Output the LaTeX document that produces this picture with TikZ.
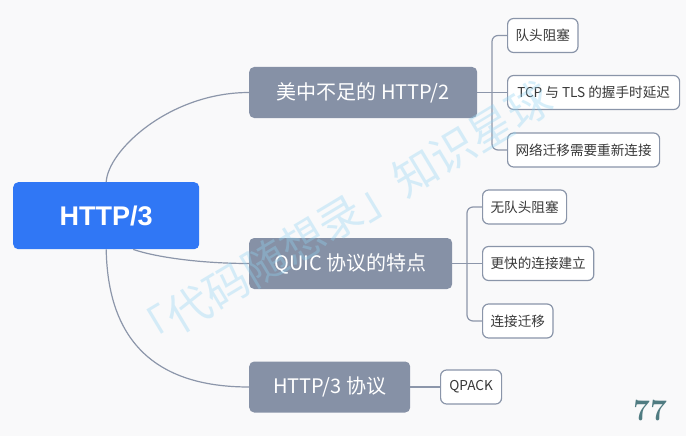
\documentclass[tikz,border=0pt]{standalone}
\usepackage{fontspec}
\newfontfamily\cjk{Noto Sans CJK SC}
\newfontfamily\arialb{Liberation Sans}
\usetikzlibrary{calc}
\definecolor{bg}{HTML}{F9F9FA}
\definecolor{rootblue}{HTML}{3077F5}
\definecolor{topicgrey}{HTML}{8691A6}
\definecolor{leafline}{HTML}{8A95A9}
\definecolor{linkgrey}{HTML}{8C96AA}
\definecolor{leaftext}{HTML}{383838}
\definecolor{numcol}{HTML}{4F7B81}
\definecolor{wmblue}{HTML}{8FD3F3}
\tikzset{
  rootbox/.style={fill=rootblue, rounded corners=5pt, minimum width=186pt, minimum height=67pt,
    text=white, font=\arialb\bfseries\fontsize{27}{30}\selectfont, inner sep=0pt},
  topic/.style={fill=topicgrey, rounded corners=5pt, minimum height=51pt, text=white,
    font=\cjk\fontsize{20}{23}\selectfont, inner sep=0pt, anchor=west},
  leaf/.style={draw=leafline, line width=1.2pt, fill=white, rounded corners=6pt, minimum height=34pt,
    inner xsep=8pt, inner ysep=0pt, text=leaftext, font=\cjk\fontsize{13.6}{15}\selectfont, anchor=west},
  link/.style={draw=linkgrey, line width=1.2pt},
  watermark/.style={text=wmblue, opacity=.35, font=\cjk\fontsize{44}{48}\selectfont},
  pagenum/.style={text=numcol, font=\rmfamily\bfseries\fontsize{30}{32}\selectfont}
}
\begin{document}
\begin{tikzpicture}[x=1pt,y=-1pt]
\fill[bg] (0,0) rectangle (686,436);
\useasboundingbox (0,0) rectangle (686,436);

\node[rootbox, anchor=north west] (root) at (13,182) {HTTP/3};
\node[topic, minimum width=228pt] (t1) at (249,92.5) {美中不足的 HTTP/2};
\node[topic, minimum width=203pt] (t2) at (249,263.5) {QUIC 协议的特点};
\node[topic, minimum width=161pt] (t3) at (249,387) {HTTP/3 协议};

\node[leaf, minimum width=70pt] (a1) at (507,35.5) {队头阻塞};
\node[leaf, minimum width=172pt] (a2) at (507,92.5) {TCP 与 TLS 的握手时延迟};
\node[leaf, minimum width=151pt] (a3) at (507,150) {网络迁移需要重新连接};
\node[leaf, minimum width=84pt] (b1) at (482,207) {无队头阻塞};
\node[leaf, minimum width=110pt] (b2) at (482,263.5) {更快的连接建立};
\node[leaf, minimum width=70pt] (b3) at (482,321) {连接迁移};
\node[leaf, minimum width=61pt] (c1) at (440,387) {QPACK};

\draw[link] (root.north) .. controls (108,150) and (170,92.5) .. (t1.west);
\coordinate (r2) at ($(root.south)+(27,0)$);
\draw[link] (r2) .. controls (155,257) and (200,263.5) .. (t2.west);
\draw[link] (root.south) .. controls (108,350) and (165,387) .. (t3.west);

\coordinate (ja) at (492,92.5);
\draw[link] (t1.east) -- (a2.west);
\draw[link, rounded corners=6pt] (a1.west) -| (ja) |- (a3.west);

\coordinate (jb) at (467,263.5);
\draw[link] (t2.east) -- (b2.west);
\draw[link, rounded corners=6pt] (b1.west) -| (jb) |- (b3.west);

\draw[link] (t3.east) -- (c1.west);

\node[watermark, rotate=31] (wm) at (340,218) {「代码随想录」知识星球};
\node[pagenum] (pg) at (650,411) {77};
\end{tikzpicture}
\end{document}
